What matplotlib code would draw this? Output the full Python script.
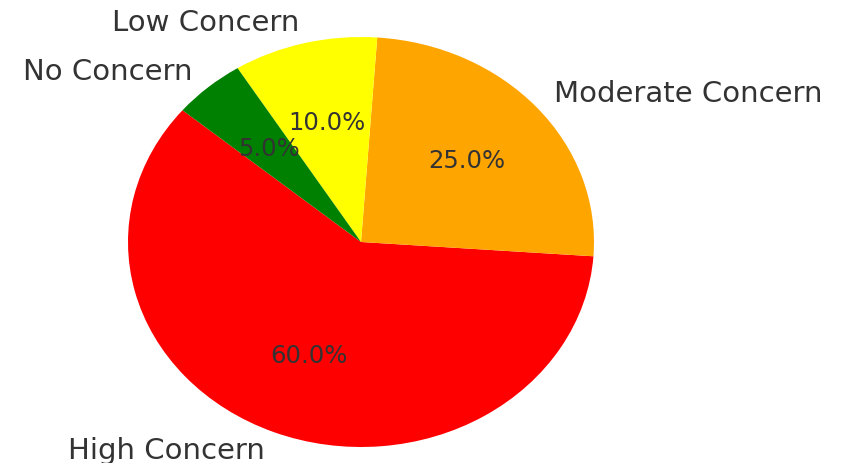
import matplotlib
matplotlib.use("Agg")
import matplotlib.pyplot as plt

labels = ["High Concern", "Moderate Concern", "Low Concern", "No Concern"]
shares = [60, 25, 10, 5]
colors = ["red", "orange", "yellow", "green"]

fig = plt.figure(figsize=(8.46, 4.63), dpi=100)
# pie is stretched into an ellipse in the reference
ax = fig.add_axes([128 / 846, 16 / 463, 466 / 846, 410 / 463])

wedges, texts, autotexts = ax.pie(
    shares,
    labels=labels,
    colors=colors,
    autopct="%1.1f%%",
    startangle=140,
    textprops={"fontsize": 21, "color": "#333333"},
)
for t in autotexts:
    t.set_fontsize(17.5)

ax.set_aspect("auto")
ax.set_xlim(-1, 1)
ax.set_ylim(-1, 1)
ax.axis("off")

fig.savefig("out.png", dpi=100)
